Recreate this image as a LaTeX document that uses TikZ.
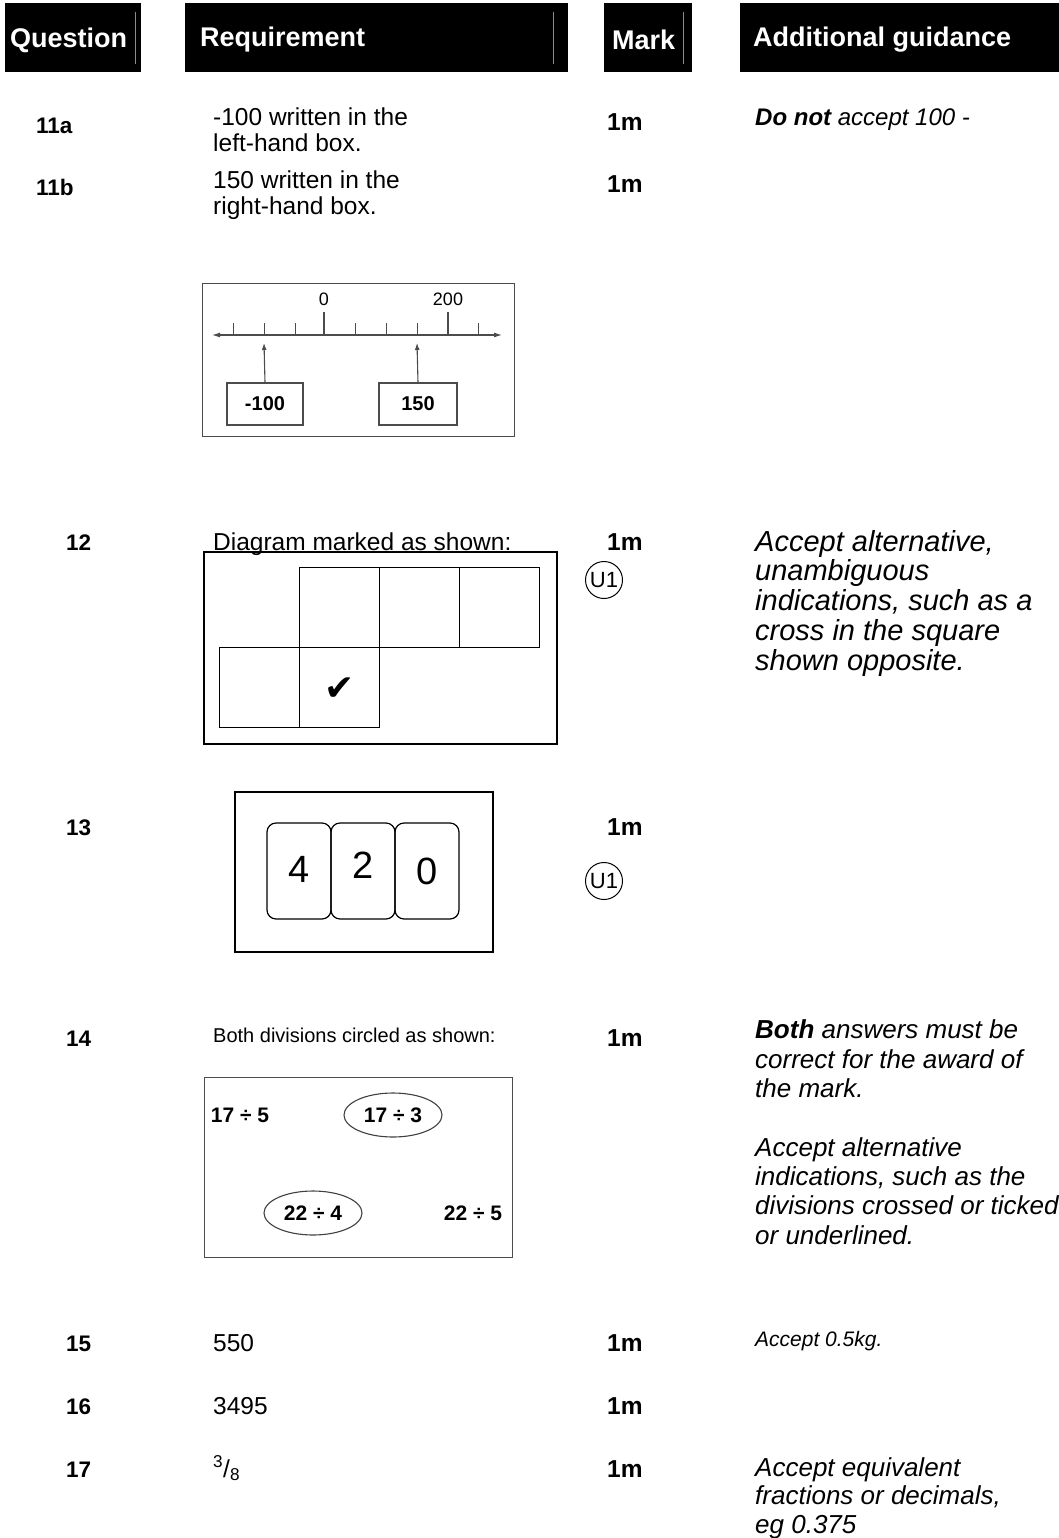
\documentclass[tikz,border=0pt]{standalone}
\usepackage{fontspec}
\setmainfont{Liberation Sans}
\setsansfont{Liberation Sans}
\newfontfamily\symbolfont{DejaVu Sans}
\usetikzlibrary{arrows.meta,shapes.geometric}

\begin{document}
\begin{tikzpicture}[
    x=1pt, y=-1pt,
    header/.style={fill=black, anchor=north west, minimum height=69pt, inner sep=0pt},
    headtext/.style={text=white, font=\bfseries\fontsize{27}{30}\selectfont, anchor=west, inner sep=0pt},
    qnum/.style={font=\bfseries\fontsize{22.5}{26}\selectfont, anchor=base west, inner sep=0pt},
    req/.style={font=\fontsize{24.5}{25.5}\selectfont, anchor=base west, inner sep=0pt, align=left},
    marktext/.style={font=\bfseries\fontsize{24.5}{26}\selectfont, anchor=base west, inner sep=0pt},
    guide/.style={font=\itshape\fontsize{26}{29.3}\selectfont, anchor=base west, inner sep=0pt, align=left},
    unit/.style={circle, draw, line width=1pt, minimum size=37pt, inner sep=0pt, font=\fontsize{22}{22}\selectfont},
    frame/.style={draw, line width=1.5pt, anchor=north west, inner sep=0pt},
    sq/.style={draw, line width=1.3pt, minimum size=80pt, inner sep=0pt, anchor=north west},
    card/.style={draw, line width=1.2pt, rounded corners=9pt, minimum width=64pt, minimum height=96pt, inner sep=0pt, font=\fontsize{38}{38}\selectfont},
    scan/.style={draw=black!70, line width=1.1pt},
    scantext/.style={font=\bfseries\fontsize{20}{20}\selectfont, inner sep=0pt},
    oval/.style={ellipse, draw=black!75, line width=1.1pt, minimum width=98pt, minimum height=44pt, inner sep=0pt},
    arrow/.style={-{Latex[length=7pt,width=5pt]}}
]
\useasboundingbox (0,0) rectangle (1059,1538);

% Header bar
\node[header, minimum width=136pt] (hq) at (5,3) {};
\node[header, minimum width=383pt] (hr) at (185,3) {};
\node[header, minimum width=88pt] (hm) at (604,3) {};
\node[header, minimum width=319pt] (hg) at (740,3) {};
\node[headtext] (tq) at (10,40) {Question};
\node[headtext] (tr) at (200,40) {Requirement};
\node[headtext] (tm) at (612,40) {Mark};
\node[headtext] (tg) at (753,40) {Additional guidance};
\draw[black!45, line width=0.8pt] (135,12) -- (135,64);
\draw[black!45, line width=0.8pt] (553,12) -- (553,64);
\draw[black!45, line width=0.8pt] (683,12) -- (683,64);

% Question 11
\node[qnum] (q11a) at (36,134) {11a};
\node[req] (r11a) at (213,151.5) {-100 written in the\\left-hand box.};
\node[marktext] (m11a) at (607,131) {1m};
\node[guide, font=\itshape\fontsize{24}{28}\selectfont] (g11a) at (755,126) {{\bfseries Do not} accept 100 -};

\node[qnum] (q11b) at (36,196) {11b};
\node[req] (r11b) at (213,214.5) {150 written in the\\right-hand box.};
\node[marktext] (m11b) at (607,193) {1m};

% Number line
\node[scan, frame, minimum width=312pt, minimum height=153pt, line width=1pt] (nlbox) at (202,283) {};
\coordinate (nlL) at (212,335);
\coordinate (nlR) at (502,335);
\draw[scan, {Latex[length=8pt,width=5pt]}-{Latex[length=8pt,width=5pt]}] (nlL) -- (nlR);
\foreach \x in {233,264,295,355,386,417,478}
    \draw[scan, line width=0.8pt] (\x,323) -- (\x,335);
\foreach \x in {324,448}
    \draw[scan, line width=1.4pt] (\x,312) -- (\x,335);
\node[scantext, font=\fontsize{18}{18}\selectfont] (zero) at (324,299) {0};
\node[scantext, font=\fontsize{18}{18}\selectfont] (two) at (448,299) {200};
\node[scan, scantext, minimum width=76pt, minimum height=42pt] (boxa) at (265,404) {-100};
\node[scan, scantext, minimum width=78pt, minimum height=42pt] (boxb) at (418,404) {150};
\coordinate (pa) at (264,343);
\coordinate (pb) at (417,343);
\draw[scan, arrow] (boxa.north) -- (pa);
\draw[scan, arrow] (boxb.north) -- (pb);

% Question 12
\node[qnum] (q12) at (66,550) {12};
\node[req] (r12) at (213,550) {Diagram marked as shown:};
\node[marktext] (m12) at (607,550) {1m};
\node[unit] (u12) at (604,580) {U1};
\node[guide, font=\itshape\fontsize{29}{29.75}\selectfont] (g12) at (755,670) {Accept alternative,\\unambiguous\\indications, such as a\\cross in the square\\shown opposite.};

\node[frame, minimum width=353pt, minimum height=192pt] (gridbox) at (203,551) {};
\node[sq] (s1) at (299,567) {};
\node[sq] (s2) at (379,567) {};
\node[sq] (s3) at (459,567) {};
\node[sq] (s4) at (219,647) {};
\node[sq] (s5) at (299,647) {};
\node[font=\symbolfont\fontsize{36}{36}\selectfont] (tick) at (340,689) {✔};

% Question 13
\node[qnum] (q13) at (66,835) {13};
\node[frame, minimum width=258pt, minimum height=160pt] (cardbox) at (234,791) {};
\node[card] (c4) at (299,871) {\raisebox{3pt}{4}};
\node[card] (c2) at (363,871) {\raisebox{12pt}{2}};
\node[card] (c0) at (427,871) {0};
\node[marktext] (m13) at (607,835) {1m};
\node[unit] (u13) at (604,881) {U1};

% Question 14
\node[qnum] (q14) at (66,1046) {14};
\node[req, font=\fontsize{20}{24}\selectfont] (r14) at (213,1042) {Both divisions circled as shown:};
\node[marktext] (m14) at (607,1046) {1m};
\node[guide] (g14) at (755,1244) {{\bfseries Both} answers must be\\correct for the award of\\the mark.\\[29.3pt]Accept alternative\\indications, such as the\\divisions crossed or ticked\\or underlined.};

\node[scan, frame, minimum width=308pt, minimum height=180pt, line width=1pt] (divbox) at (204,1077) {};
\node[scantext, font=\bfseries\fontsize{21}{21}\selectfont] (d175) at (240,1115) {17 ÷ 5};
\node[oval, font=\bfseries\fontsize{21}{21}\selectfont] (d173) at (393,1115) {17 ÷ 3};
\node[oval, font=\bfseries\fontsize{21}{21}\selectfont] (d224) at (313,1213) {22 ÷ 4};
\node[scantext, font=\bfseries\fontsize{21}{21}\selectfont] (d225) at (473,1213) {22 ÷ 5};

% Questions 15 - 17
\node[qnum] (q15) at (66,1351) {15};
\node[req] (r15) at (213,1351) {550};
\node[marktext] (m15) at (607,1351) {1m};
\node[guide, font=\itshape\fontsize{21}{25}\selectfont] (g15) at (755,1346) {Accept 0.5kg.};

\node[qnum] (q16) at (66,1414) {16};
\node[req] (r16) at (213,1414) {3495};
\node[marktext] (m16) at (607,1414) {1m};

\node[qnum] (q17) at (66,1477) {17};
\node[req] (r17) at (213,1477) {\textsuperscript{3}/\textsubscript{8}};
\node[marktext] (m17) at (607,1477) {1m};
\node[guide, font=\itshape\fontsize{26}{28.5}\selectfont] (g17) at (755,1533) {Accept equivalent\\fractions or decimals,\\eg 0.375};

\end{tikzpicture}
\end{document}
